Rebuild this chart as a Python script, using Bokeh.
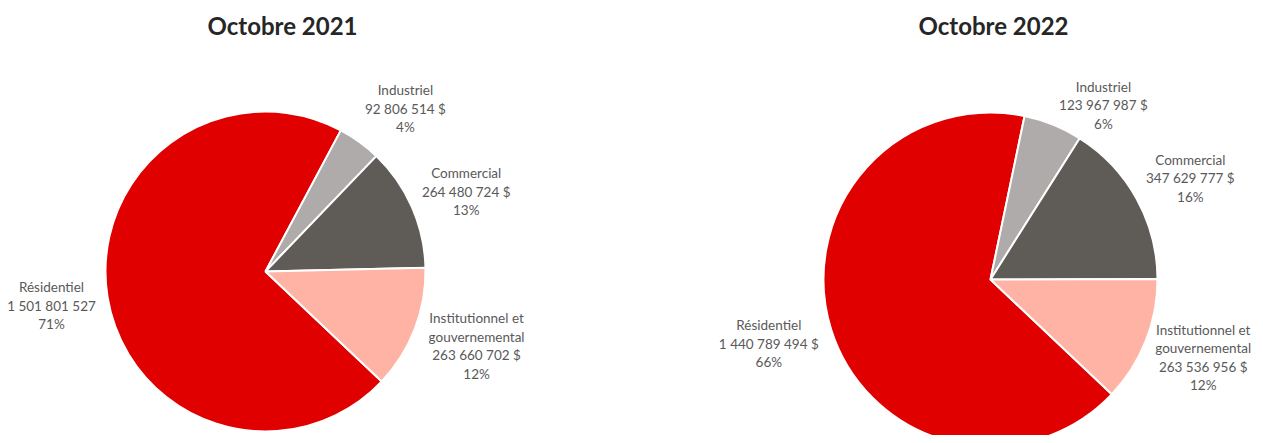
import math
from bokeh.plotting import figure
from bokeh.models import Range1d, ColumnDataSource
from bokeh.core.properties import value
from bokeh.embed import file_html
from bokeh.resources import INLINE

# ---------------- data ----------------
categories = ["Résidentiel", "Industriel", "Commercial", "Institutionnel et gouvernemental"]
label_lines = [["Résidentiel"], ["Industriel"], ["Commercial"], ["Institutionnel et", "gouvernemental"]]
values_2021 = [1501801527, 92806514, 264480724, 263660702]
values_2022 = [1440789494, 123967987, 347629777, 263536956]
amount_text_2021 = ["1 501 801 527", "92 806 514 $", "264 480 724 $", "263 660 702 $"]
amount_text_2022 = ["1 440 789 494 $", "123 967 987 $", "347 629 777 $", "263 536 956 $"]
percent_2021 = [71, 4, 13, 12]
percent_2022 = [66, 6, 16, 12]
titles = ["Octobre 2021", "Octobre 2022"]
colors = ["#E00000", "#AEABAA", "#5F5B57", "#FFB3A5"]

# ---------------- layout ----------------
W, H = 1255, 435
FONT = "Lato"
LABEL_COLOR = "#595959"
FIRST_ANGLE = 133.4  # degrees clockwise from 12 o'clock


def sy(screen_y):
    return H - screen_y


def sx(screen_x):
    return screen_x


pies = [
    dict(vals=values_2021, amounts=amount_text_2021, pcts=percent_2021, title=titles[0],
         cx=sx(265), cy=sy(271), r=160, tx=sx(282), ty=sy(25),
         lab=[1.33, 1.34, 1.35, 1.40],
         nudge=[(-4, 0), (14, 11), (3, 7), (2, -6)]),
    dict(vals=values_2022, amounts=amount_text_2022, pcts=percent_2022, title=titles[1],
         cx=sx(990), cy=sy(279), r=167, tx=sx(993), ty=sy(25),
         lab=[1.41, 1.26, 1.34, 1.37],
         nudge=[(3, -6), (34, 21), (4, 7), (0, -6)]),
]

p = figure(width=W, height=H, x_range=Range1d(0, W), y_range=Range1d(0, H),
           output_backend="svg", toolbar_location=None, min_border=0)
p.axis.visible = False
p.grid.visible = False
p.outline_line_color = None
p.background_fill_color = "white"

for pie in pies:
    vals = pie["vals"]
    total = float(sum(vals))
    starts, ends, mids = [], [], []
    a = FIRST_ANGLE
    for v in vals:
        span = v / total * 360.0
        starts.append(a)
        ends.append(a + span)
        mids.append(a + span / 2)
        a += span
    src = ColumnDataSource(dict(
        x=[pie["cx"]] * len(vals), y=[pie["cy"]] * len(vals),
        start=[math.radians(90 - s) for s in starts],
        end=[math.radians(90 - e) for e in ends],
        color=colors,
    ))
    p.wedge(x="x", y="y", radius=pie["r"], start_angle="start", end_angle="end",
            direction="clock", fill_color="color", line_color="white", line_width=2,
            source=src)

    # labels
    lx, ly, lt, lo = [], [], [], []
    for i, v in enumerate(vals):
        pct = f"{pie['pcts'][i]}%"
        lines = label_lines[i] + [pie["amounts"][i], pct]
        d = pie["r"] * pie["lab"][i]
        th = math.radians(mids[i])
        ndx, ndy = pie["nudge"][i]
        cx = pie["cx"] + d * math.sin(th) + ndx
        cy = pie["cy"] + d * math.cos(th) - ndy
        n = len(lines)
        for j, t in enumerate(lines):
            lx.append(cx)
            ly.append(cy)
            lt.append(t)
            lo.append((j - (n - 1) / 2) * 18.5)
    p.text(x=lx, y=ly, text=lt, y_offset=lo, text_align="center", text_baseline="middle",
           text_font=value(FONT), text_font_size="13.5px", text_color=LABEL_COLOR)

    p.text(x=[pie["tx"]], y=[pie["ty"]], text=[pie["title"]], text_align="center",
           text_baseline="middle", text_font=value(FONT), text_font_size="24px",
           text_font_style="bold", text_color="#262626")

open("out.html", "w").write(file_html(p, INLINE))
